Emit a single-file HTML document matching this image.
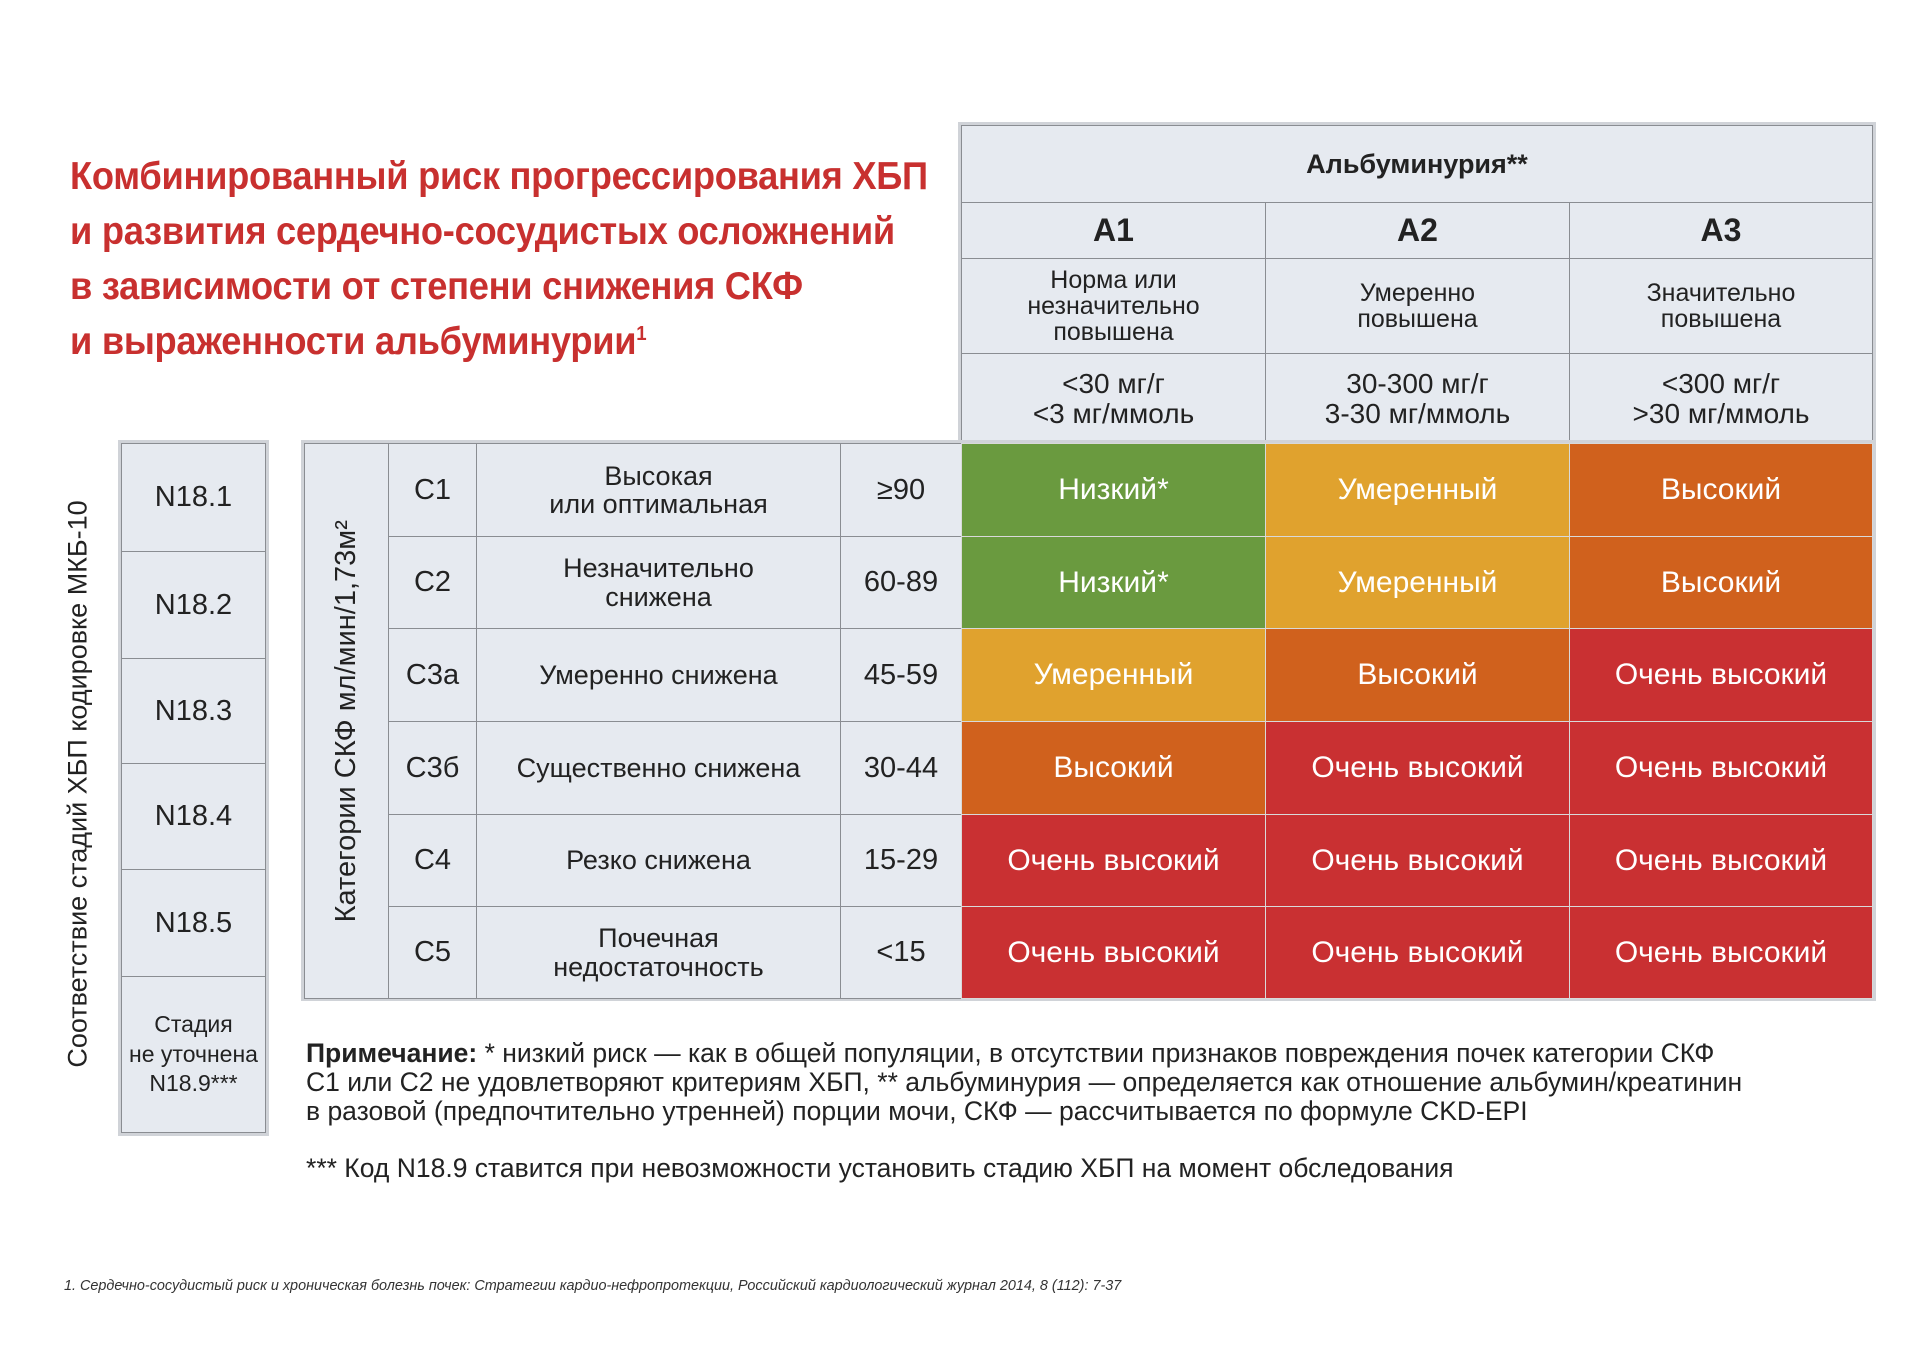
<!DOCTYPE html>
<html><head><meta charset="utf-8"><style>
*{margin:0;padding:0;box-sizing:border-box}
body{width:1920px;height:1358px;background:#fff;position:relative;overflow:hidden;font-family:"Liberation Sans Narrow","Liberation Sans","DejaVu Sans Condensed",sans-serif;color:#222}
.c{position:absolute;display:flex;align-items:center;justify-content:center;text-align:center;border:1px solid #8a8d92;background:#e6eaf0;line-height:1.05}
.r{color:#fff;font-size:30px;border-color:#d9d9d9;font-weight:500}
.g{background:#6a9a3f}.y{background:#e0a22e}.o{background:#d0611d}.rd{background:#c93032}
.t{position:absolute;left:70px;color:#c8302f;font-family:"Liberation Sans",sans-serif;font-weight:bold;font-size:39px;letter-spacing:-0.3px;white-space:nowrap;transform:scaleX(0.93);transform-origin:left center}
.n{position:absolute;left:306px;font-size:26.5px;white-space:nowrap;font-family:"Liberation Sans Narrow","Liberation Sans",sans-serif}
</style></head><body>
<div class="t" style="top:155px">Комбинированный риск прогрессирования ХБП</div>
<div class="t" style="top:210px">и развития сердечно-сосудистых осложнений</div>
<div class="t" style="top:265px">в зависимости от степени снижения СКФ</div>
<div class="t" style="top:320px">и выраженности альбуминурии<sup style="font-size:20px">1</sup></div>

<div style="position:absolute;left:958px;top:122px;width:918px;height:324px;background:#d0d3d8"></div>
<div class="c" style="left:961px;top:125px;width:912px;height:78px;font-size:27px;font-weight:bold">Альбуминурия**</div>
<div class="c" style="left:961px;top:202px;width:305px;height:57px;font-size:32px;font-weight:bold">A1</div>
<div class="c" style="left:1265px;top:202px;width:305px;height:57px;font-size:32px;font-weight:bold">A2</div>
<div class="c" style="left:1569px;top:202px;width:304px;height:57px;font-size:32px;font-weight:bold">A3</div>
<div class="c" style="left:961px;top:258px;width:305px;height:96px;font-size:25px">Норма или<br>незначительно<br>повышена</div>
<div class="c" style="left:1265px;top:258px;width:305px;height:96px;font-size:25px">Умеренно<br>повышена</div>
<div class="c" style="left:1569px;top:258px;width:304px;height:96px;font-size:25px">Значительно<br>повышена</div>
<div class="c" style="left:961px;top:353px;width:305px;height:91px;font-size:28px">&lt;30 мг/г<br>&lt;3 мг/ммоль</div>
<div class="c" style="left:1265px;top:353px;width:305px;height:91px;font-size:28px">30-300 мг/г<br>3-30 мг/ммоль</div>
<div class="c" style="left:1569px;top:353px;width:304px;height:91px;font-size:28px">&lt;300 мг/г<br>&gt;30 мг/ммоль</div>

<div style="position:absolute;left:301px;top:440px;width:1575px;height:561px;background:#d0d3d8"></div>
<div class="c" style="left:304px;top:443px;width:85px;height:556px"><div style="transform:rotate(-90deg);white-space:nowrap;font-family:'Liberation Sans',sans-serif;font-size:29px">Категории СКФ мл/мин/1,73м²</div></div>

<div class="c" style="left:388px;top:443px;width:89px;height:94px;font-size:29px">C1</div>
<div class="c" style="left:476px;top:443px;width:365px;height:94px;font-size:27px">Высокая<br>или оптимальная</div>
<div class="c" style="left:840px;top:443px;width:122px;height:94px;font-size:29px">≥90</div>
<div class="c r g" style="left:961px;top:443px;width:305px;height:94px">Низкий*</div>
<div class="c r y" style="left:1265px;top:443px;width:305px;height:94px">Умеренный</div>
<div class="c r o" style="left:1569px;top:443px;width:304px;height:94px">Высокий</div>

<div class="c" style="left:388px;top:536px;width:89px;height:93px;font-size:29px">C2</div>
<div class="c" style="left:476px;top:536px;width:365px;height:93px;font-size:27px">Незначительно<br>снижена</div>
<div class="c" style="left:840px;top:536px;width:122px;height:93px;font-size:29px">60-89</div>
<div class="c r g" style="left:961px;top:536px;width:305px;height:93px">Низкий*</div>
<div class="c r y" style="left:1265px;top:536px;width:305px;height:93px">Умеренный</div>
<div class="c r o" style="left:1569px;top:536px;width:304px;height:93px">Высокий</div>

<div class="c" style="left:388px;top:628px;width:89px;height:94px;font-size:29px">C3a</div>
<div class="c" style="left:476px;top:628px;width:365px;height:94px;font-size:27px">Умеренно снижена</div>
<div class="c" style="left:840px;top:628px;width:122px;height:94px;font-size:29px">45-59</div>
<div class="c r y" style="left:961px;top:628px;width:305px;height:94px">Умеренный</div>
<div class="c r o" style="left:1265px;top:628px;width:305px;height:94px">Высокий</div>
<div class="c r rd" style="left:1569px;top:628px;width:304px;height:94px">Очень высокий</div>

<div class="c" style="left:388px;top:721px;width:89px;height:94px;font-size:29px">C3б</div>
<div class="c" style="left:476px;top:721px;width:365px;height:94px;font-size:27px">Существенно снижена</div>
<div class="c" style="left:840px;top:721px;width:122px;height:94px;font-size:29px">30-44</div>
<div class="c r o" style="left:961px;top:721px;width:305px;height:94px">Высокий</div>
<div class="c r rd" style="left:1265px;top:721px;width:305px;height:94px">Очень высокий</div>
<div class="c r rd" style="left:1569px;top:721px;width:304px;height:94px">Очень высокий</div>

<div class="c" style="left:388px;top:814px;width:89px;height:93px;font-size:29px">C4</div>
<div class="c" style="left:476px;top:814px;width:365px;height:93px;font-size:27px">Резко снижена</div>
<div class="c" style="left:840px;top:814px;width:122px;height:93px;font-size:29px">15-29</div>
<div class="c r rd" style="left:961px;top:814px;width:305px;height:93px">Очень высокий</div>
<div class="c r rd" style="left:1265px;top:814px;width:305px;height:93px">Очень высокий</div>
<div class="c r rd" style="left:1569px;top:814px;width:304px;height:93px">Очень высокий</div>

<div class="c" style="left:388px;top:906px;width:89px;height:93px;font-size:29px">C5</div>
<div class="c" style="left:476px;top:906px;width:365px;height:93px;font-size:27px">Почечная<br>недостаточность</div>
<div class="c" style="left:840px;top:906px;width:122px;height:93px;font-size:29px">&lt;15</div>
<div class="c r rd" style="left:961px;top:906px;width:305px;height:93px">Очень высокий</div>
<div class="c r rd" style="left:1265px;top:906px;width:305px;height:93px">Очень высокий</div>
<div class="c r rd" style="left:1569px;top:906px;width:304px;height:93px">Очень высокий</div>

<div style="position:absolute;left:118px;top:440px;width:151px;height:696px;background:#d0d3d8"></div>
<div class="c" style="left:121px;top:443px;width:145px;height:109px;font-size:29px">N18.1</div>
<div class="c" style="left:121px;top:551px;width:145px;height:108px;font-size:29px">N18.2</div>
<div class="c" style="left:121px;top:658px;width:145px;height:106px;font-size:29px">N18.3</div>
<div class="c" style="left:121px;top:763px;width:145px;height:107px;font-size:29px">N18.4</div>
<div class="c" style="left:121px;top:869px;width:145px;height:108px;font-size:29px">N18.5</div>
<div class="c" style="left:121px;top:976px;width:145px;height:157px;font-size:23px;line-height:1.3">Стадия<br>не уточнена<br>N18.9***</div>

<div style="position:absolute;left:78px;top:784px;transform:translate(-50%,-50%) rotate(-90deg);white-space:nowrap;font-family:'Liberation Sans',sans-serif;font-size:27px">Соответствие стадий ХБП кодировке МКБ-10</div>

<div class="n" style="top:1038px"><b>Примечание:</b> * низкий риск — как в общей популяции, в отсутствии признаков повреждения почек категории СКФ</div>
<div class="n" style="top:1067px">С1 или С2 не удовлетворяют критериям ХБП, ** альбуминурия — определяется как отношение альбумин/креатинин</div>
<div class="n" style="top:1096px">в разовой (предпочтительно утренней) порции мочи, СКФ — рассчитывается по формуле CKD-EPI</div>
<div class="n" style="top:1153px">*** Код N18.9 ставится при невозможности установить стадию ХБП на момент обследования</div>

<div style="position:absolute;left:64px;top:1278px;font-size:14.4px;font-style:italic;white-space:nowrap;color:#333">1. Сердечно-сосудистый риск и хроническая болезнь почек: Стратегии кардио-нефропротекции, Российский кардиологический журнал 2014, 8 (112): 7-37</div>
</body></html>
